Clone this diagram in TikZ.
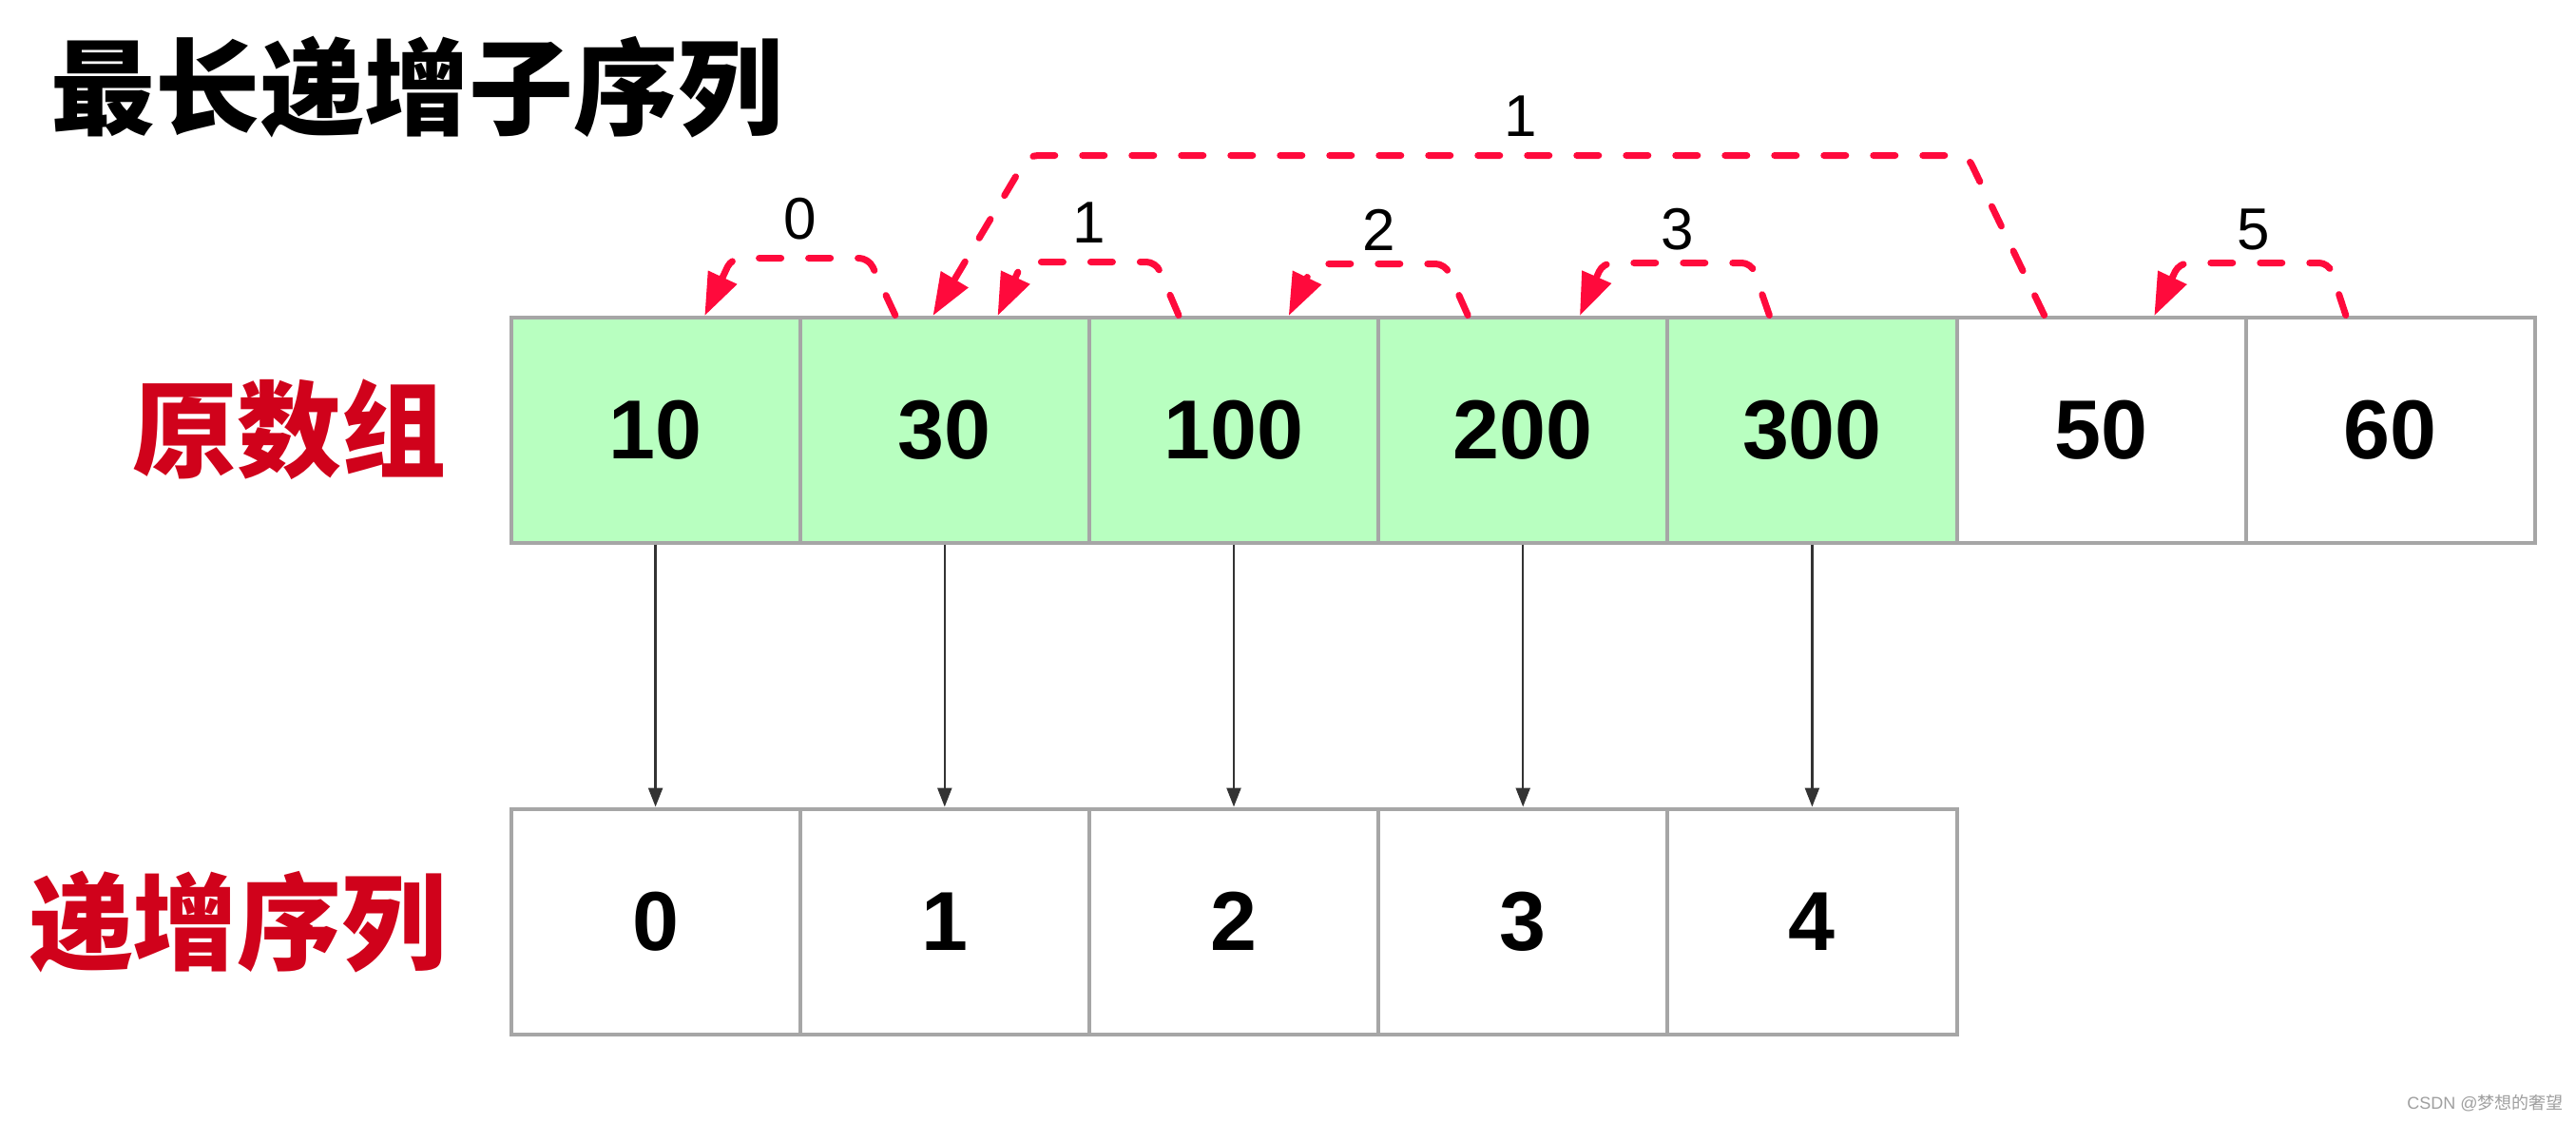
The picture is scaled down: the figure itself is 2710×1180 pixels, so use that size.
\documentclass[tikz,border=0pt]{standalone}
\usepackage{fontspec}
\setmainfont{Liberation Sans}
\newfontfamily\cjk{Noto Sans CJK SC}
\usetikzlibrary{arrows.meta,calc}
\definecolor{arrowred}{HTML}{FF0A3C}
\definecolor{labelred}{HTML}{D0021B}
\definecolor{cellgreen}{HTML}{B8FFC0}
\definecolor{bordergray}{HTML}{A6A6A6}
\definecolor{vline}{HTML}{333333}
\begin{document}
\begin{tikzpicture}[x=0.5pt,y=-0.5pt,
  cell/.style={draw=bordergray, line width=2pt, minimum width=152.1pt, minimum height=118.5pt,
    inner sep=0pt, font=\bfseries\fontsize{44}{48}\selectfont},
  greencell/.style={cell, fill=cellgreen},
  rowlabel/.style={text=labelred, font=\cjk\bfseries\fontsize{55}{60}\selectfont, inner sep=0pt},
  titletext/.style={text=black, font=\cjk\bfseries\fontsize{55}{60}\selectfont, inner sep=0pt},
  varrow/.style={draw=vline, line width=1.2pt, -{Triangle[length=10pt,width=7.5pt]}},
  rarrow/.style={draw=arrowred, line width=3.5pt, line cap=round, rounded corners=5pt,
    dash pattern=on 11.5pt off 14.5pt, -{Triangle[length=22pt,width=17pt,line width=0pt]}},
  lbl/.style={font=\fontsize{31}{34}\selectfont, text=black, anchor=base, yshift=10pt, inner sep=0pt},
  wm/.style={text=gray!75, font=\fontsize{9}{11}\selectfont, inner sep=0pt}]
\fill[white] (0,0) rectangle (2710,1180);
\useasboundingbox (0,0) rectangle (2710,1180);

\node[titletext] (title) at (439,92) {最长递增子序列};
\node[rowlabel] (lab1) at (304,452) {原数组};
\node[rowlabel] (lab2) at (250,970) {递增序列};

\foreach \v [count=\i from 0] in {10,30,100,200,300}
  \node[greencell] (t\i) at ({689.6+304.2*\i},452) {\v};
\node[cell] (t5) at (2210.6,452) {50};
\node[cell] (t6) at (2514.8,452) {60};

\foreach \v [count=\i from 0] in {0,1,2,3,4}
  \node[cell] (b\i) at ({689.6+304.2*\i},969) {\v};

\foreach \i in {0,...,4}
  \draw[varrow] (t\i) -- (b\i);

% red dashed predecessor arrows
\draw[rarrow] ($(t1.north)+(-52,0)$) -- ($(t1.north)+(-80,-60)$)
  -- node[lbl] {0} ($(t0.north)+(80,-60)$) -- ($(t0.north)+(52,0)$);
\draw[rarrow] ($(t2.north)+(-58,0)$) -- ($(t2.north)+(-82,-56)$)
  -- node[lbl] {1} ($(t1.north)+(82,-56)$) -- ($(t1.north)+(56,0)$);
\draw[rarrow] ($(t3.north)+(-58,0)$) -- ($(t3.north)+(-82,-54)$)
  -- node[lbl, yshift=-3pt] {2} ($(t2.north)+(84,-54)$) -- ($(t2.north)+(58,0)$);
\draw[rarrow] ($(t4.north)+(-45,0)$) -- ($(t4.north)+(-64,-55)$)
  -- node[lbl, yshift=-3pt] {3} ($(t3.north)+(84,-55)$) -- ($(t3.north)+(60,0)$);
\draw[rarrow] ($(t6.north)+(-47,0)$) -- ($(t6.north)+(-65,-55)$)
  -- node[lbl, yshift=-3pt] {5} ($(t5.north)+(82,-55)$) -- ($(t5.north)+(56,0)$);
\draw[rarrow] ($(t5.north)+(-60,0)$) -- ($(t5.north)+(-141,-168)$)
  -- node[lbl, pos=0.476] {1} ($(t1.north)+(88,-168)$) -- ($(t1.north)+(-12,0)$);

\node[wm, anchor=east] (wm) at (2697,1160) {CSDN @{\cjk 梦想的奢望}};
\end{tikzpicture}
\end{document}
